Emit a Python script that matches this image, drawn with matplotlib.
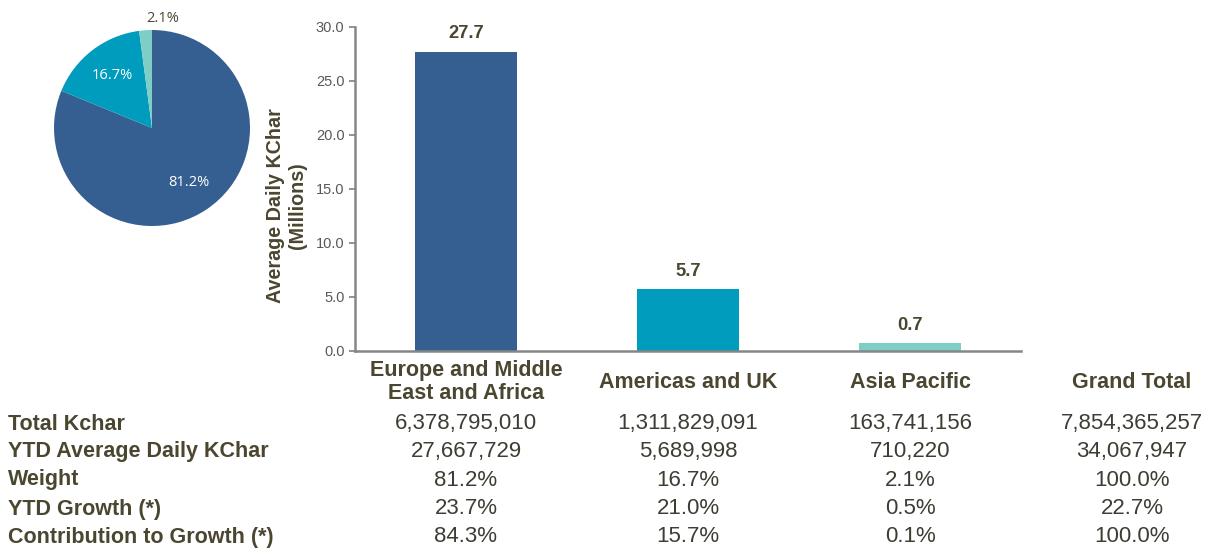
import matplotlib.pyplot as plt
import matplotlib.transforms as transforms

plt.rcParams['font.family'] = ['Liberation Sans', 'DejaVu Sans']

regions = ["Europe and Middle\nEast and Africa", "Americas and UK", "Asia Pacific"]
avg_daily_m = [27.7, 5.7, 0.7]
weights = [81.2, 16.7, 2.1]
colors = ['#365F91', '#009CBD', '#7FCEC5']

col_heads = regions + ["Grand Total"]
row_labels = ["Total Kchar", "YTD Average Daily KChar", "Weight",
              "YTD Growth (*)", "Contribution to Growth (*)"]
total_kchar = ["6,378,795,010", "1,311,829,091", "163,741,156", "7,854,365,257"]
ytd_avg = ["27,667,729", "5,689,998", "710,220", "34,067,947"]
weight_txt = ["81.2%", "16.7%", "2.1%", "100.0%"]
ytd_growth = ["23.7%", "21.0%", "0.5%", "22.7%"]
contrib = ["84.3%", "15.7%", "0.1%", "100.0%"]
table_rows = [total_kchar, ytd_avg, weight_txt, ytd_growth, contrib]

dark = '#4A4630'
valc = '#3E3D33'
W, H = 1211, 550

fig = plt.figure(figsize=(W / 100, H / 100), dpi=100)

# bar chart
ax = fig.add_axes([355 / W, 1 - 351 / H, (1021 - 355) / W, (351 - 27) / H])
x = list(range(len(regions)))
bars = ax.bar(x, avg_daily_m, width=0.46, color=colors)
for b, v in zip(bars, avg_daily_m):
    ax.text(b.get_x() + b.get_width() / 2, v + 1.7, f"{v:.1f}", ha='center', va='center',
            fontsize=13.2, fontweight='bold', color=dark)
ax.set_xlim(-0.5, 2.5)
ax.set_ylim(0, 30)
ax.set_yticks([0, 5, 10, 15, 20, 25, 30])
ax.set_yticklabels([f"{t:.1f}" for t in [0, 5, 10, 15, 20, 25, 30]])
ax.tick_params(axis='y', labelsize=10.5, colors='#808080', labelcolor='#595959', length=4, width=1.2)
ax.set_xticks([])
for s in ['top', 'right']:
    ax.spines[s].set_visible(False)
for s in ['left', 'bottom']:
    ax.spines[s].set_color('#868686')
    ax.spines[s].set_linewidth(1.8)
ax.set_ylabel("Average Daily KChar\n(Millions)", fontsize=14.2, fontweight='bold',
              color=dark, linespacing=1.2)
ax.yaxis.set_label_coords(-0.072, 0.45)

# table under the bars
tr = transforms.blended_transform_factory(ax.transData, fig.transFigure)
for i, h in enumerate(col_heads):
    ax.text(i, 1 - 382 / H, h, transform=tr, ha='center', va='center', fontsize=15.5,
            fontweight='bold', color=dark, linespacing=1.08, clip_on=False)
row_y = [424, 452, 480, 509, 537]
for lab, vals, yy in zip(row_labels, table_rows, row_y):
    fig.text(8 / W, 1 - yy / H, lab, ha='left', va='center', fontsize=15.5,
             fontweight='bold', color=dark)
    for i, v in enumerate(vals):
        ax.text(i, 1 - yy / H, v, transform=tr, ha='center', va='center', fontsize=16,
                color=valc, clip_on=False)

# pie
r = 98
pax = fig.add_axes([(152 - r) / W, 1 - (128 + r) / H, 2 * r / W, 2 * r / H])
wedges, texts, autotexts = pax.pie(weights, colors=colors, startangle=90, counterclock=False,
                                   autopct='%1.1f%%', pctdistance=0.67,
                                   textprops={'fontsize': 10.5, 'color': 'white',
                                              'family': ['Open Sans', 'DejaVu Sans']})
autotexts[2].set_color('#4A4630')
autotexts[2].set_position((0.11, 1.12))
pax.set_xlim(-1, 1)
pax.set_ylim(-1, 1)
pax.set_aspect('equal')

fig.savefig('out.png', dpi=100)
